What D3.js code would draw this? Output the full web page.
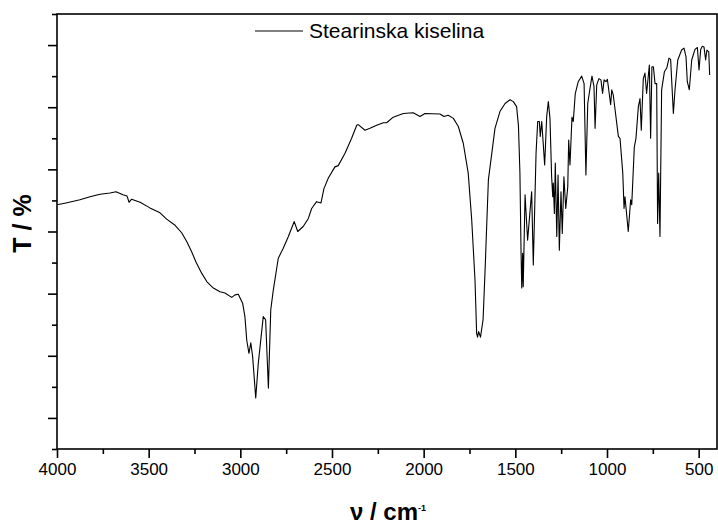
<!DOCTYPE html>
<html>
<head>
<meta charset="utf-8">
<script src="https://cdn.jsdelivr.net/npm/d3@7"></script>
<style>
  body { margin: 0; background: #fff; }
  svg { display: block; font-family: "Liberation Sans", Arial, sans-serif; }
</style>
</head>
<body>
<div id="chart"></div>
<script>
// IR spectrum - stearic acid

var seriesName = "Stearinska kiselina";

var wavenumber = [
    4000, 3951, 3875, 3820, 3765, 3711, 3678, 3640, 3618, 3607, 3593, 3547, 3493, 3438, 3402, 3356,
    3320, 3291, 3265, 3242, 3211, 3182, 3147, 3111, 3084, 3047, 3029, 3011, 2987, 2975, 2965, 2953,
    2943, 2933, 2916, 2902, 2875, 2862, 2847, 2834, 2820, 2793, 2766, 2738, 2706, 2687, 2657, 2629,
    2611, 2584, 2560, 2544, 2520, 2484, 2466, 2429, 2393, 2365, 2357, 2320, 2293, 2256, 2220, 2202,
    2166, 2111, 2057, 2020, 1993, 1911, 1889, 1866, 1838, 1811, 1784, 1757, 1738, 1720, 1711, 1706,
    1700, 1690, 1676, 1665, 1647, 1611, 1584, 1556, 1529, 1511, 1493, 1483, 1475, 1469, 1465, 1460,
    1457, 1447, 1433, 1411, 1402, 1387, 1378, 1369, 1364, 1356, 1340, 1329, 1320, 1311, 1302, 1296,
    1293, 1287, 1282, 1274, 1267, 1260, 1251, 1244, 1235, 1225, 1214, 1209, 1202, 1191, 1184, 1173,
    1157, 1138, 1125, 1115, 1105, 1097, 1082, 1071, 1065, 1056, 1044, 1033, 1024, 1016, 1005, 998,
    980, 974, 966, 938, 929, 914, 907, 902, 884, 871, 865, 851, 842, 829, 820, 813,
    802, 793, 784, 769, 762, 755, 747, 738, 729, 724, 718, 711, 702, 687, 674, 662,
    653, 638, 629, 614, 593, 580, 569, 562, 551, 538, 520, 507, 498, 489, 480, 471,
    462, 455, 445, 440
];

var transmittance = [
    39.3, 39.6, 40.1, 40.6, 41.0, 41.2, 41.4, 40.9, 40.7, 39.7, 40.2, 39.7, 38.8, 38.0, 37.0, 36.0,
    34.8, 33.3, 31.7, 30.1, 28.3, 26.9, 25.9, 25.3, 25.1, 24.4, 24.8, 24.9, 23.4, 21.3, 17.5, 15.4,
    17.1, 14.9, 8.2, 13.8, 21.3, 20.8, 9.8, 22.4, 25.6, 30.7, 32.3, 34.2, 36.6, 35.0, 35.8, 37.1,
    38.7, 39.8, 39.6, 41.9, 43.6, 45.4, 45.6, 47.6, 50.0, 52.1, 52.2, 51.3, 51.6, 52.1, 52.5, 52.5,
    53.4, 54.0, 54.1, 53.5, 54.0, 53.9, 53.5, 53.7, 53.2, 51.9, 49.2, 44.4, 36.9, 27.2, 18.6, 18.0,
    18.9, 18.0, 20.8, 28.8, 43.3, 51.6, 54.3, 55.6, 56.2, 55.9, 55.1, 52.0, 44.4, 32.0, 25.9, 31.5,
    26.1, 40.9, 33.6, 41.4, 29.6, 47.6, 52.7, 52.7, 50.3, 52.7, 45.7, 53.5, 55.9, 53.2, 43.8, 40.6,
    42.8, 37.9, 46.0, 34.2, 44.1, 32.0, 41.4, 34.7, 43.8, 38.7, 42.2, 49.7, 45.7, 53.4, 52.7, 57.2,
    59.1, 60.0, 58.8, 44.1, 55.6, 57.2, 60.0, 58.3, 51.6, 58.6, 59.6, 59.4, 57.2, 59.4, 59.1, 59.5,
    55.4, 57.8, 57.0, 50.3, 50.0, 44.4, 38.7, 40.6, 35.0, 40.1, 39.3, 48.6, 50.0, 55.1, 56.4, 51.3,
    59.6, 60.5, 57.2, 61.8, 50.0, 61.5, 61.5, 58.8, 58.8, 36.3, 44.4, 34.2, 57.8, 60.7, 61.3, 62.9,
    62.7, 54.0, 57.8, 62.6, 64.2, 64.5, 63.1, 59.1, 57.8, 62.6, 64.3, 64.6, 61.0, 64.3, 64.8, 64.7,
    62.6, 64.2, 63.9, 60.2
];

var xMajorTicks = [4000, 3500, 3000, 2500, 2000, 1500, 1000, 500];
var xMinorTicks = [3750, 3250, 2750, 2250, 1750, 1250, 750];
var yMajorTicks = [5, 15, 25, 35, 45, 55, 65];
var yMinorTicks = [0, 10, 20, 30, 40, 50, 60, 70];

var cfg = {
    w: 718,
    h: 527,
    margin: {top: 14, right: 1, bottom: 78, left: 57},
    xDomain: [4000, 400],
    yDomain: [0, 70],
    majorLen: 9,
    minorLen: 5
};

var width = cfg.w - cfg.margin.left - cfg.margin.right,
    height = cfg.h - cfg.margin.top - cfg.margin.bottom;

var data = wavenumber.map(function(d, i) { return {x: d, y: transmittance[i]}; });

var xScale = d3.scaleLinear().domain(cfg.xDomain).range([0, width]);
var yScale = d3.scaleLinear().domain(cfg.yDomain).range([height, 0]);

var svg = d3.select("#chart").append("svg")
    .attr("width", cfg.w)
    .attr("height", cfg.h)
    .append("g")
    .attr("transform", "translate(" + cfg.margin.left + "," + cfg.margin.top + ")");

// axes: major ticks with labels, minor ticks without
svg.append("g")
    .attr("transform", "translate(0," + height + ")")
    .call(d3.axisBottom(xScale).tickValues(xMajorTicks).tickSize(cfg.majorLen).tickPadding(5).tickFormat(d3.format("d")))
    .call(function(g) {
        g.select(".domain").remove();
        g.selectAll("line").attr("stroke", "#000").attr("stroke-width", 1.6);
        g.selectAll("text").attr("font-size", "17px").attr("fill", "#000")
            .attr("font-family", "Liberation Sans, Arial, sans-serif");
    });

svg.append("g")
    .attr("transform", "translate(0," + height + ")")
    .call(d3.axisBottom(xScale).tickValues(xMinorTicks).tickSize(cfg.minorLen).tickFormat(""))
    .call(function(g) {
        g.select(".domain").remove();
        g.selectAll("line").attr("stroke", "#000").attr("stroke-width", 1.6);
    });

svg.append("g")
    .call(d3.axisLeft(yScale).tickValues(yMajorTicks).tickSize(cfg.majorLen).tickFormat(""))
    .call(function(g) {
        g.select(".domain").remove();
        g.selectAll("line").attr("stroke", "#000").attr("stroke-width", 1.6);
    });

svg.append("g")
    .call(d3.axisLeft(yScale).tickValues(yMinorTicks).tickSize(cfg.minorLen).tickFormat(""))
    .call(function(g) {
        g.select(".domain").remove();
        g.selectAll("line").attr("stroke", "#000").attr("stroke-width", 1.6);
    });

// frame
svg.append("rect")
    .attr("x", 0)
    .attr("y", 0)
    .attr("width", width)
    .attr("height", height)
    .style("fill", "none")
    .style("stroke", "#000")
    .style("stroke-width", 1.6);

var line = d3.line()
    .x(function(d) { return xScale(d.x); })
    .y(function(d) { return yScale(d.y); });

svg.append("path")
    .datum(data)
    .attr("d", line)
    .style("fill", "none")
    .style("stroke", "#000")
    .style("stroke-width", 1.1)
    .style("stroke-linejoin", "round");

// legend
var legend = svg.append("g")
    .attr("transform", "translate(" + 198 + "," + 17 + ")");
legend.append("line")
    .attr("x1", 0).attr("x2", 48)
    .attr("y1", 0).attr("y2", 0)
    .style("stroke", "#000")
    .style("stroke-width", 1);
legend.append("text")
    .attr("x", 54)
    .attr("y", 7)
    .attr("font-size", "21px")
    .attr("fill", "#000")
    .text(seriesName);

// axis titles
var xTitle = svg.append("text")
    .attr("x", 293)
    .attr("y", height + 71)
    .attr("font-size", "24px")
    .attr("font-weight", "bold")
    .attr("fill", "#000");
xTitle.append("tspan").text("ν / cm");
xTitle.append("tspan").attr("font-size", "9px").attr("dy", -9).text("-1");

svg.append("text")
    .attr("transform", "translate(" + (-26) + "," + (height / 2 - 8) + ") rotate(-90)")
    .attr("text-anchor", "middle")
    .attr("font-size", "25px")
    .attr("font-weight", "bold")
    .attr("fill", "#000")
    .text("T / %");
</script>
</body>
</html>
